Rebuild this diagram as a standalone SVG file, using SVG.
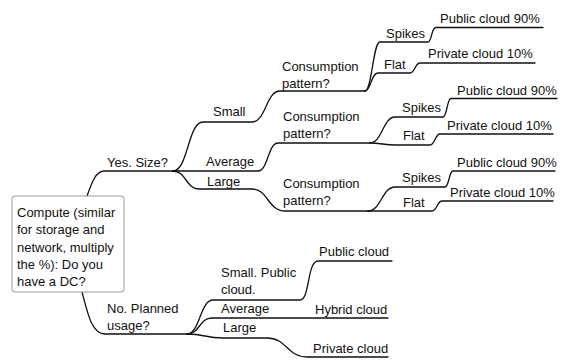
<svg xmlns="http://www.w3.org/2000/svg" width="565" height="360" viewBox="0 0 565 360">
  <style>
    .t { font-family: "Liberation Sans", Arial, Helvetica, sans-serif; font-size: 13px; fill: #111; }
    .edge { fill: none; stroke: #111; stroke-width: 1.3; stroke-linecap: round; stroke-linejoin: round; }
    .box { fill: #fff; stroke: #999; stroke-width: 1; }
  </style>
  <rect width="565" height="360" fill="#fff"/>

  <!-- branches of the mind map -->
  <g id="connectors">
    <!-- root to "Yes. Size?" -->
    <path class="edge" d="M87,196 C92,182 96,171 104,171 L173,171"/>
    <!-- Small -->
    <path class="edge" d="M173,171 C188,171 188,122 203,122 L252,122 C266,122 266,91 280,91 L365,91"/>
    <path class="edge" d="M365,91 C372,91 373,42 380,42 L428,42 C432,42 431,27.5 436,27.5 L543,27.5"/>
    <path class="edge" d="M365,91 C371,91 371,73 378,73 L410,73 C415,73 415,63 420,63 L535,63"/>
    <!-- Average -->
    <path class="edge" d="M173,171 L258,171 C268,171 268,143 278,143 L370,143"/>
    <path class="edge" d="M370,143 C382,143 383,117 395,117 L443,117 C447,117 447,98.5 451,98.5 L557,98.5"/>
    <path class="edge" d="M370,143 C380,143 385,145 395,145 L430,145 C435,145 435,134 440,134 L553,134"/>
    <!-- Large -->
    <path class="edge" d="M173,171 C186,171 186,189 199,189 L252,189 C268,189 268,211 285,211 L368,211"/>
    <path class="edge" d="M368,211 C381,211 382,187 395,187 L445,187 C449,187 449,171 453,171 L555,171"/>
    <path class="edge" d="M368,211 L432,211 C437,211 437,201 442,201 L553,201"/>
    <!-- root to "No. Planned usage?" -->
    <path class="edge" d="M82,292 C88,315 92,334 105,334 L187,334"/>
    <path class="edge" d="M187,334 C200,334 200,300 213,300 L300,300 C310,300 307,261 318,261 L392,261"/>
    <path class="edge" d="M187,334 C200,334 199,318 212,318 L388,318"/>
    <path class="edge" d="M187,334 C205,334 205,338 223,338 L267,338 C287,338 287,357 307,357 L388,357"/>
  </g>

  <g id="root">
    <rect class="box" x="12" y="196" width="112" height="96" rx="3"/>
    <text class="t" x="17" y="217">Compute (similar</text>
    <text class="t" x="17" y="234.3">for storage and</text>
    <text class="t" x="17" y="251.6">network, multiply</text>
    <text class="t" x="17" y="268.9">the %): Do you</text>
    <text class="t" x="17" y="286.2">have a DC?</text>
  </g>

  <g id="yes"><text class="t" x="107" y="167">Yes. Size?</text></g>
  <g id="small"><text class="t" x="213" y="116">Small</text></g>
  <g id="average"><text class="t" x="206" y="166">Average</text></g>
  <g id="large"><text class="t" x="207" y="186">Large</text></g>

  <g id="pattern-small">
    <text class="t" x="282" y="71">Consumption</text>
    <text class="t" x="282" y="88">pattern?</text>
  </g>
  <g id="spikes-small"><text class="t" x="386" y="38">Spikes</text></g>
  <g id="flat-small"><text class="t" x="384" y="69">Flat</text></g>
  <g id="public-small"><text class="t" x="440" y="23">Public cloud 90%</text></g>
  <g id="private-small"><text class="t" x="428" y="58">Private cloud 10%</text></g>

  <g id="pattern-average">
    <text class="t" x="283" y="121">Consumption</text>
    <text class="t" x="283" y="138">pattern?</text>
  </g>
  <g id="spikes-average"><text class="t" x="402" y="112">Spikes</text></g>
  <g id="flat-average"><text class="t" x="403" y="140">Flat</text></g>
  <g id="public-average"><text class="t" x="457" y="95">Public cloud 90%</text></g>
  <g id="private-average"><text class="t" x="447" y="130">Private cloud 10%</text></g>

  <g id="pattern-large">
    <text class="t" x="283" y="188">Consumption</text>
    <text class="t" x="283" y="205">pattern?</text>
  </g>
  <g id="spikes-large"><text class="t" x="402" y="182">Spikes</text></g>
  <g id="flat-large"><text class="t" x="403" y="207">Flat</text></g>
  <g id="public-large"><text class="t" x="457" y="167">Public cloud 90%</text></g>
  <g id="private-large"><text class="t" x="450" y="197">Private cloud 10%</text></g>

  <g id="no">
    <text class="t" x="107" y="313">No. Planned</text>
    <text class="t" x="107" y="330">usage?</text>
  </g>
  <g id="usage-small">
    <text class="t" x="221" y="277">Small. Public</text>
    <text class="t" x="221" y="294">cloud.</text>
  </g>
  <g id="usage-average"><text class="t" x="221" y="313">Average</text></g>
  <g id="usage-large"><text class="t" x="223" y="332">Large</text></g>
  <g id="public-cloud"><text class="t" x="319" y="256">Public cloud</text></g>
  <g id="hybrid-cloud"><text class="t" x="315" y="314">Hybrid cloud</text></g>
  <g id="private-cloud"><text class="t" x="313" y="353">Private cloud</text></g>
</svg>
